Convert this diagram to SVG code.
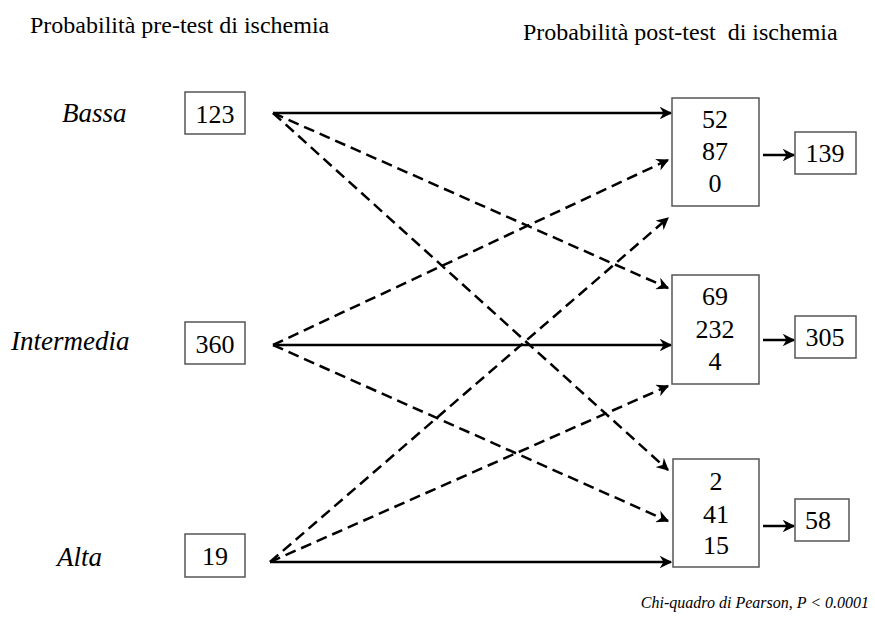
<svg xmlns="http://www.w3.org/2000/svg" width="875" height="617" viewBox="0 0 875 617">
<style>
text{font-family:'Liberation Serif','Times New Roman','DejaVu Serif',serif;fill:#000}
.h{font-size:24px}
.lab{font-size:27px;font-style:italic}
.num{font-size:26px;text-anchor:middle}
.box{fill:#fff;stroke:#555;stroke-width:1.5}
.c{stroke:#000;stroke-width:2.5;fill:none;marker-end:url(#ah)}
.d{stroke-dasharray:11 6}
.foot{font-size:16px;font-style:italic;text-anchor:end}
</style>
<defs>
<marker id="ah" viewBox="0 0 10 10" refX="9" refY="5" markerWidth="5" markerHeight="5" orient="auto" markerUnits="strokeWidth">
<path d="M0,0 L10,5 L0,10 L3,5 Z" fill="#000"/>
</marker>
</defs>
<rect width="875" height="617" fill="#fff"/>
<text class="h" x="30" y="33">Probabilità pre-test di ischemia</text>
<text class="h" x="523" y="40" xml:space="preserve">Probabilità post-test  di ischemia</text>
<text class="lab" x="62" y="122">Bassa</text>
<text class="lab" x="11" y="350">Intermedia</text>
<text class="lab" x="57" y="566">Alta</text>
<g id="connectors">
<line class="c" x1="273" y1="113" x2="671" y2="113"/>
<line class="c d" x1="273" y1="113" x2="668" y2="288"/>
<line class="c d" x1="273" y1="113" x2="668" y2="470"/>
<line class="c d" x1="273" y1="345" x2="668" y2="160"/>
<line class="c" x1="273" y1="345" x2="671" y2="345"/>
<line class="c d" x1="273" y1="345" x2="668" y2="521"/>
<line class="c d" x1="270" y1="562" x2="668" y2="218"/>
<line class="c d" x1="270" y1="562" x2="668" y2="386"/>
<line class="c" x1="270" y1="562" x2="671" y2="562"/>
<line class="c" x1="763" y1="155" x2="794" y2="155"/>
<line class="c" x1="763" y1="340" x2="794" y2="340"/>
<line class="c" x1="763" y1="526" x2="794" y2="526"/>
</g>
<g id="n123"><rect class="box" x="185" y="92" width="60" height="42"/><text class="num" x="215" y="123">123</text></g>
<g id="n360"><rect class="box" x="185" y="322" width="60" height="42"/><text class="num" x="215" y="353">360</text></g>
<g id="n19"><rect class="box" x="185" y="534" width="60" height="43"/><text class="num" x="215" y="565">19</text></g>
<g id="p1"><rect class="box" x="672" y="98" width="87" height="108"/>
<text class="num" x="715" y="128">52</text><text class="num" x="715" y="160">87</text><text class="num" x="715" y="192">0</text></g>
<g id="p2"><rect class="box" x="672" y="275" width="87" height="109"/>
<text class="num" x="715" y="305">69</text><text class="num" x="715" y="338">232</text><text class="num" x="715" y="370">4</text></g>
<g id="p3"><rect class="box" x="673" y="459" width="86" height="108"/>
<text class="num" x="716" y="490">2</text><text class="num" x="716" y="523">41</text><text class="num" x="716" y="554">15</text></g>
<g id="s1"><rect class="box" x="795" y="132" width="61" height="42"/><text class="num" x="825" y="162">139</text></g>
<g id="s2"><rect class="box" x="795" y="316" width="61" height="42"/><text class="num" x="825" y="346">305</text></g>
<g id="s3"><rect class="box" x="795" y="499" width="54" height="42"/><text class="num" x="818" y="529">58</text></g>
<text class="foot" x="869" y="608">Chi-quadro di Pearson, P &lt; 0.0001</text>
</svg>
